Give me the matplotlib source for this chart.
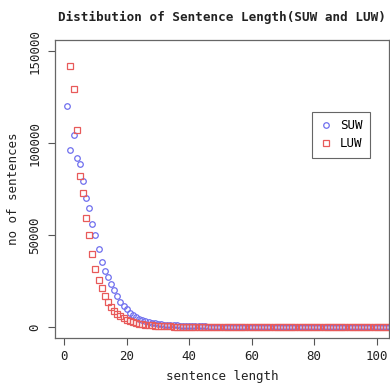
import matplotlib
matplotlib.use("Agg")
import matplotlib.pyplot as plt

# sentence lengths
suw_len = list(range(1, 105))
luw_len = list(range(2, 105))

suw_counts = [
    120100, 96100, 104300, 91800, 88500, 79400, 70200, 64700, 55900, 49900,
    42400, 35200, 30500, 26900, 23600, 20200, 16700, 13600, 11200, 9500,
    7600, 6400, 5400, 4600, 3900, 3300, 2800, 2400, 2000, 1750,
    1500, 1300, 1150, 1000, 900, 800, 700, 620, 550, 490,
    440, 390, 350, 310, 280, 250, 225, 200, 180, 165,
    150, 135, 120, 110, 100, 92, 85, 78, 72, 66,
    60, 56, 52, 48, 44, 41, 38, 35, 33, 31,
    29, 27, 25, 23, 22, 20, 19, 18, 17, 16,
    15, 14, 13, 12, 12, 11, 10, 10, 9, 9,
    8, 8, 7, 7, 7, 6, 6, 6, 5, 5,
    5, 5, 4, 4,
]

luw_counts = [
    141800, 129500, 107000, 82000, 72900, 59500, 50100, 39900, 31600,
    25400, 21000, 16700, 13600, 10900, 8700, 7200, 5800, 4700, 3900,
    3200, 2600, 2100, 1700, 1400, 1150, 950, 800, 650, 550,
    460, 390, 330, 280, 240, 205, 175, 150, 130, 112,
    97, 84, 73, 64, 56, 49, 43, 38, 34, 30,
    27, 24, 21, 19, 17, 15, 14, 12, 11, 10,
    9, 8, 8, 7, 6, 6, 5, 5, 4, 4,
    4, 3, 3, 3, 3, 2, 2, 2, 2, 2,
    2, 1, 1, 1, 1, 1, 1, 1, 1, 1,
    1, 1, 1, 1, 1, 1, 1, 1, 1, 1,
    1, 1, 1, 1,
]

x_ticks = [0, 20, 40, 60, 80, 100]
y_ticks = [0, 50000, 100000, 150000]
series_names = ["SUW", "LUW"]

plt.rcParams['font.family'] = ['DejaVu Sans Mono']

W, H = 390, 385
fig = plt.figure(figsize=(W / 100, H / 100), dpi=100)
ax = fig.add_axes([55 / W, 1 - 338 / H, (389 - 55) / W, (338 - 40) / H])

ax.plot(suw_len, suw_counts, linestyle='none', marker='o', markersize=4.0,
        markerfacecolor='none', markeredgecolor='#6f6fee', markeredgewidth=0.9,
        label=series_names[0])
ax.plot(luw_len, luw_counts, linestyle='none', marker='s', markersize=4.0,
        markerfacecolor='none', markeredgecolor='#e85a5a', markeredgewidth=0.9,
        label=series_names[1])

ax.set_xlim(-2.96, 103.96)
ax.set_ylim(-6000, 156000)
ax.set_xticks(x_ticks)
ax.set_yticks(y_ticks)
ax.set_yticklabels([str(v) for v in y_ticks], rotation=90, va='center')
ax.tick_params(axis='both', length=5, width=0.8, color='#555555',
               labelsize=9, labelcolor='#222222')
ax.tick_params(axis='x', pad=4)
ax.tick_params(axis='y', pad=5)

for s in ax.spines.values():
    s.set_color('#666666')
    s.set_linewidth(0.9)

ax.set_title("Distibution of Sentence Length(SUW and LUW)", fontsize=9.1,
             fontweight='bold', pad=14, color='#222222')
ax.set_xlabel("sentence length", fontsize=9, labelpad=5, color='#222222')
ax.set_ylabel("no of sentences", fontsize=9, labelpad=6, color='#222222')

leg = ax.legend(loc='upper right', bbox_to_anchor=(0.943, 0.76),
                fontsize=9, frameon=True, fancybox=False, framealpha=1,
                edgecolor='#666666', handlelength=1.0, handletextpad=0.6,
                borderpad=0.6, labelspacing=0.4, borderaxespad=0,
                markerscale=1.0)
leg.get_frame().set_linewidth(0.8)

fig.savefig("out.png", dpi=100)
